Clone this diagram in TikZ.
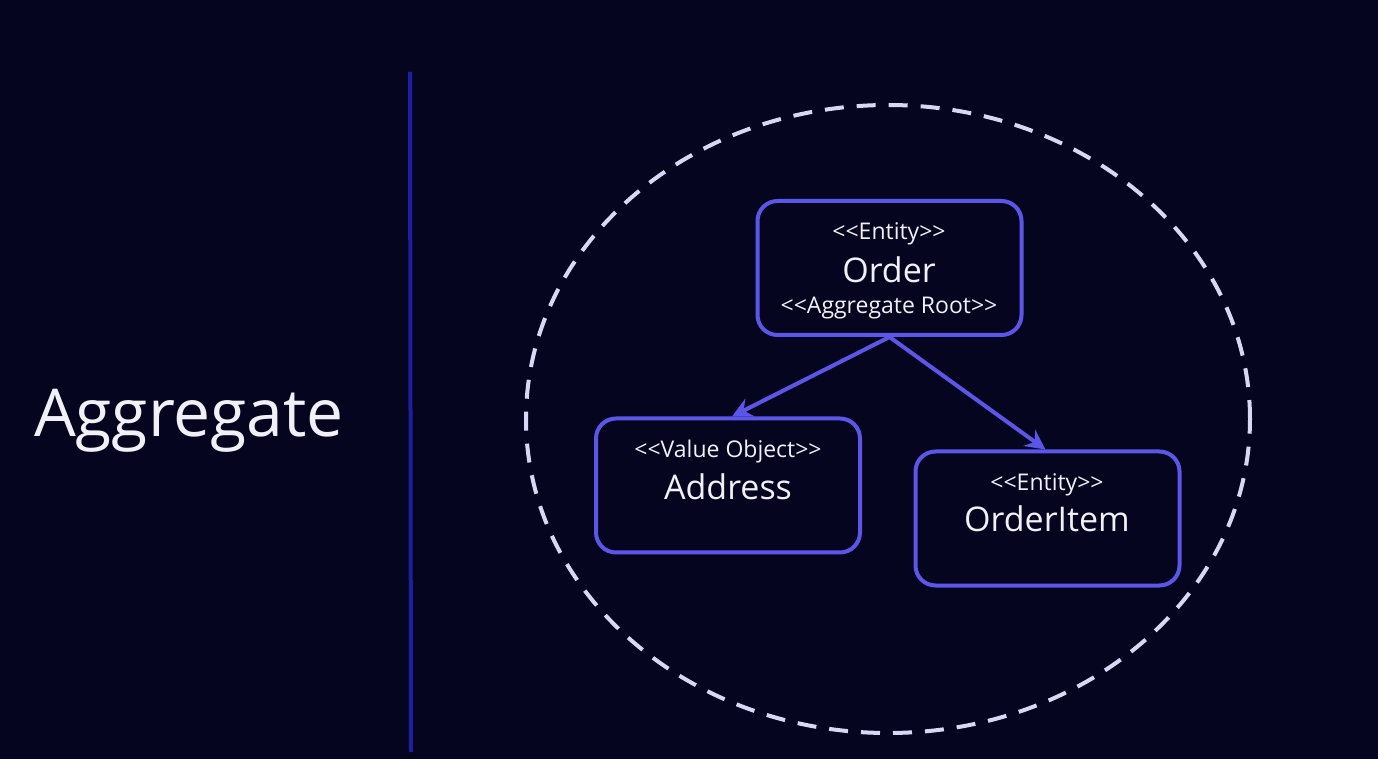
\documentclass[tikz,border=0pt]{standalone}
\usepackage{fontspec}
\setmainfont{Open Sans}
\usetikzlibrary{arrows.meta,positioning}

\definecolor{bgnavy}{RGB}{6,5,32}
\definecolor{boxblue}{RGB}{92,86,232}
\definecolor{divblue}{RGB}{30,30,158}
\definecolor{ringgray}{RGB}{216,216,244}
\definecolor{txtwhite}{RGB}{240,240,246}

\tikzset{
    entbox/.style={draw=boxblue, line width=2pt, rounded corners=10pt, minimum width=132pt, minimum height=67pt},
    stereo/.style={text=txtwhite, font=\fontsize{11.5}{13}\selectfont},
    ename/.style={text=txtwhite, font=\fontsize{17}{20}\selectfont},
    arr/.style={draw=boxblue, line width=2pt, -{Stealth[length=10pt,width=10pt,inset=3.5pt]}},
    ring/.style={draw=ringgray, line width=2pt, dash pattern=on 9.5pt off 6.5pt}
}

\begin{document}
\begin{tikzpicture}[x=0.5pt,y=-0.5pt]
        \fill[bgnavy] (0,0) rectangle (1378,759);
        \useasboundingbox (0,0) rectangle (1378,759);

        \node[text=txtwhite, font=\fontsize{33}{40}\selectfont] (title) at (189,421) {Aggregate};
        \draw[divblue, line width=2pt] (410,72) -- (411,752);

        \draw[ring] (888,419) ellipse [x radius=181pt, y radius=157pt];

        \node[entbox] (order) at (889.5,268) {};
        \node[stereo] (ordera) at (889,234) {<{}<Entity>{}>};
        \node[ename] (orderb) at (889,270) {Order};
        \node[stereo] (orderc) at (889,308) {<{}<Aggregate Root>{}>};

        \node[entbox] (addr) at (728,485.5) {};
        \node[stereo] (addra) at (728,452) {<{}<Value Object>{}>};
        \node[ename] (addrb) at (728,487) {Address};

        \node[entbox] (item) at (1047.5,518.5) {};
        \node[stereo] (itema) at (1047,485) {<{}<Entity>{}>};
        \node[ename] (itemb) at (1047,519) {OrderItem};

        \draw[arr] (order.south) -- ([xshift=2pt]addr.north);
        \draw[arr] (order.south) -- ([xshift=-1pt]item.north);
    \end{tikzpicture}
\end{document}
